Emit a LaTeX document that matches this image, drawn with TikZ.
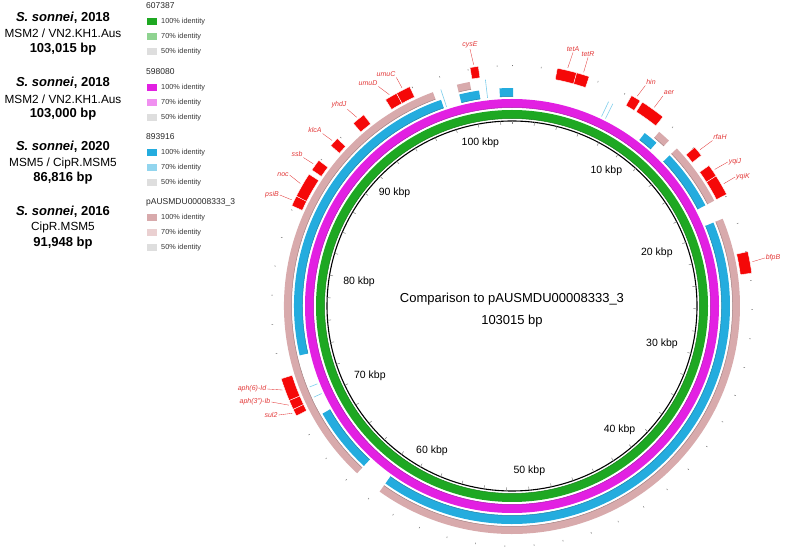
\documentclass[tikz,border=0pt]{standalone}
\usepackage{fontspec}
\setmainfont{Liberation Sans}
\usepackage{tikz}
\usetikzlibrary{positioning,calc}
\definecolor{ringgreen}{RGB}{30,168,34}
\definecolor{ringmagenta}{RGB}{226,32,226}
\definecolor{ringblue}{RGB}{36,172,222}
\definecolor{ringpink}{RGB}{216,170,172}
\definecolor{idgrey}{RGB}{222,222,222}
\definecolor{genered}{RGB}{245,8,8}
\definecolor{labelred}{RGB}{226,56,56}

% ring piece, positions in degrees clockwise from the top
\newcommand{\ringseg}[5]{%
  \fill[#1] (90-#2:#4pt) arc[start angle=90-#2, end angle=90-#3, radius=#4pt]
    -- (90-#3:#5pt) arc[start angle=90-#3, end angle=90-#2, radius=#5pt] -- cycle;
  \draw[#1!75!black, line width=0.5pt] (90-#2:#4pt)
    arc[start angle=90-#2, end angle=90-#3, radius=#4pt];}
% gene box on the outer track, with a named point for its label line
\newcommand{\genebox}[3]{%
  \filldraw[fill=genered, draw=white, line width=0.4pt]
    (90-#2:230.5pt) arc[start angle=90-#2, end angle=90-#3, radius=230.5pt]
    -- (90-#3:242pt) arc[start angle=90-#3, end angle=90-#2, radius=242pt] -- cycle;
  \pgfmathsetmacro{\gmid}{90-(#2+#3)/2}
  \coordinate (#1) at (\gmid:243pt);}

\begin{document}
\begin{tikzpicture}[x=1pt,y=1pt,
    kbp/.style={font=\fontsize{10.5}{12}\selectfont, inner sep=1pt},
    genelabel/.style={font=\fontsize{7}{8}\selectfont\itshape, text=labelred, inner sep=0.8pt},
    leader/.style={labelred, line width=0.35pt, shorten >=1.5pt},
    legname/.style={font=\fontsize{11.8}{14}\selectfont, inner sep=0pt},
    legbold/.style={font=\fontsize{13}{15}\selectfont\bfseries, inner sep=0pt},
    legid/.style={font=\fontsize{8.5}{10}\selectfont, text=black!85, inner sep=0pt},
    legsmall/.style={font=\fontsize{7.3}{9}\selectfont, text=black!80, inner sep=0pt}]
  \useasboundingbox (0,0) rectangle (787,554);

  % Strain names
  \node[legbold] (s1) at (63,536) {\textit{S. sonnei}, 2018};
  \node[legname] (m1) at (63,520.5) {MSM2 / VN2.KH1.Aus};
  \node[legbold] (b1) at (63,505) {103,015 bp};
  \node[legbold] (s2) at (63,471) {\textit{S. sonnei}, 2018};
  \node[legname] (m2) at (63,455) {MSM2 / VN2.KH1.Aus};
  \node[legbold] (b2) at (63,440) {103,000 bp};
  \node[legbold] (s3) at (63,407) {\textit{S. sonnei}, 2020};
  \node[legname] (m3) at (63,391) {MSM5 / CipR.MSM5};
  \node[legbold] (b3) at (63,376) {86,816 bp};
  \node[legbold] (s4) at (63,342) {\textit{S. sonnei}, 2016};
  \node[legname] (m4) at (63,326.5) {CipR.MSM5};
  \node[legbold] (b4) at (63,311) {91,948 bp};

  % Identity legend
  \foreach \hy/\hd/\ca/\cb [count=\n] in {548/607387/ringgreen/ringgreen!50,
      482/598080/ringmagenta/ringmagenta!50, 417/893916/ringblue/ringblue!50,
      352/pAUSMDU00008333\_3/ringpink/ringpink!55} {
    \node[legid, anchor=west] (h\n) at (146,\hy) {\hd};
    \fill[\ca] (147,\hy-19.5) rectangle ++(10,7);
    \node[legsmall, anchor=west] (pa\n) at (161,\hy-16) {100\% identity};
    \fill[\cb] (147,\hy-34.5) rectangle ++(10,7);
    \node[legsmall, anchor=west] (pb\n) at (161,\hy-31) {70\% identity};
    \fill[idgrey] (147,\hy-49.5) rectangle ++(10,7);
    \node[legsmall, anchor=west] (pc\n) at (161,\hy-46) {50\% identity};
  }

  \begin{scope}[shift={(512,248)}]
    % full rings
    \fill[ringgreen, even odd rule] (0,0) circle (196pt) (0,0) circle (187.5pt);
    \draw[ringgreen!75!black, line width=0.5pt] (0,0) circle (187.5pt);
    \fill[ringmagenta, even odd rule] (0,0) circle (207pt) (0,0) circle (198.5pt);
    \draw[ringmagenta!75!black, line width=0.5pt] (0,0) circle (198.5pt);
    % blue and pink rings, with gaps
    \foreach \a/\b in {37.5/41.5, 46.3/62.5, 67.5/215.5, 222.8/240.4,
        256.9/341, 346/351.3, 356.7/360.3}
      \ringseg{ringblue}{\a}{\b}{209.5}{218};
    \foreach \a/\b in {40.2/43.5, 46.3/62.5, 67.5/215.5, 222.8/339.7, 346/349.3}
      \ringseg{ringpink}{\a}{\b}{220.5}{228};
    \foreach \s/\r in {25.3/226, 26.5/226, 341.8/228, 353.3/228, 245.3/218, 248.2/218}
      \draw[ringblue!60, line width=0.6pt] (90-\s:209.5pt) -- (90-\s:\r pt);
    % backbone and ticks
    \draw[line width=1.1pt] (0,0) circle (185pt);
    \foreach \k in {0,2,...,102} {
      \draw[gray, line width=0.5pt] ({90-\k*3.49464}:185pt) -- ({90-\k*3.49464}:181.5pt);
      \draw[black!55, line width=0.5pt] ({90-\k*3.49464}:239.5pt) -- ({90-\k*3.49464}:241pt);
    }
    \foreach \k in {10,20,...,100} {
      \pgfmathtruncatemacro{\ka}{90-\k*3.49464}
      \node[kbp, anchor=\ka] (k\k) at (\ka:172pt) {\k\ kbp};
    }
    % genes
    \foreach \id/\from/\to in {cysE/350/352, tetA/10.8/15.5, tetR/15.5/18.6,
        hin/29.6/32, aer/32.6/38.6, rfaH/49/51.5, yqiJ/54.5/57.5, yqiK/57.5/62.5,
        bfpB/77/82.2, aphA/247/252.5, aphB/244.7/247, sulII/243/244.7,
        psiB/294.5/297, noc/297/303, ssb/304.2/307, klcA/311.5/313.8,
        yhdJ/319/322.2, umuD/328.5/331.5, umuC/331.5/335}
      \genebox{\id}{\from}{\to};
  \end{scope}

  % Title
  \node[font=\fontsize{13}{15}\selectfont] (title) at (512,255) {Comparison to pAUSMDU00008333\_3};
  \node[font=\fontsize{13}{15}\selectfont] (len) at (512,233) {103015 bp};

  % Gene labels
  \node[genelabel] (lcysE) at (470,509) {cysE};
  \node[genelabel] (ltetA) at (573,505) {tetA};
  \node[genelabel] (ltetR) at (588,500) {tetR};
  \node[genelabel] (lhin) at (651,472) {hin};
  \node[genelabel] (laer) at (669,461) {aer};
  \node[genelabel] (lrfaH) at (720,417) {rfaH};
  \node[genelabel] (lyqiJ) at (735,392) {yqiJ};
  \node[genelabel] (lyqiK) at (743,377) {yqiK};
  \node[genelabel] (lbfpB) at (773,296) {bfpB};
  \node[genelabel] (lumuC) at (386,480) {umuC};
  \node[genelabel] (lumuD) at (368,471) {umuD};
  \node[genelabel] (lyhdJ) at (339,449) {yhdJ};
  \node[genelabel] (lklcA) at (315,424) {klcA};
  \node[genelabel] (lssb) at (297,400) {ssb};
  \node[genelabel] (lnoc) at (283,379) {noc};
  \node[genelabel] (lpsiB) at (272,359) {psiB};
  \node[genelabel] (laphA) at (252,165) {aph(6)-Id};
  \node[genelabel] (laphB) at (255,152) {aph(3")-Ib};
  \node[genelabel] (lsulII) at (271,139) {sul2};
  \foreach \id/\an in {cysE/south, tetA/south, tetR/south, hin/south west,
      aer/south west, rfaH/south west, yqiJ/west, yqiK/west, bfpB/west,
      umuC/south east, umuD/south east, yhdJ/south east, klcA/south east,
      ssb/south east, noc/east, psiB/east, aphA/east, aphB/east, sulII/east}
    \draw[leader] (l\id.\an) -- (\id);
\end{tikzpicture}
\end{document}
